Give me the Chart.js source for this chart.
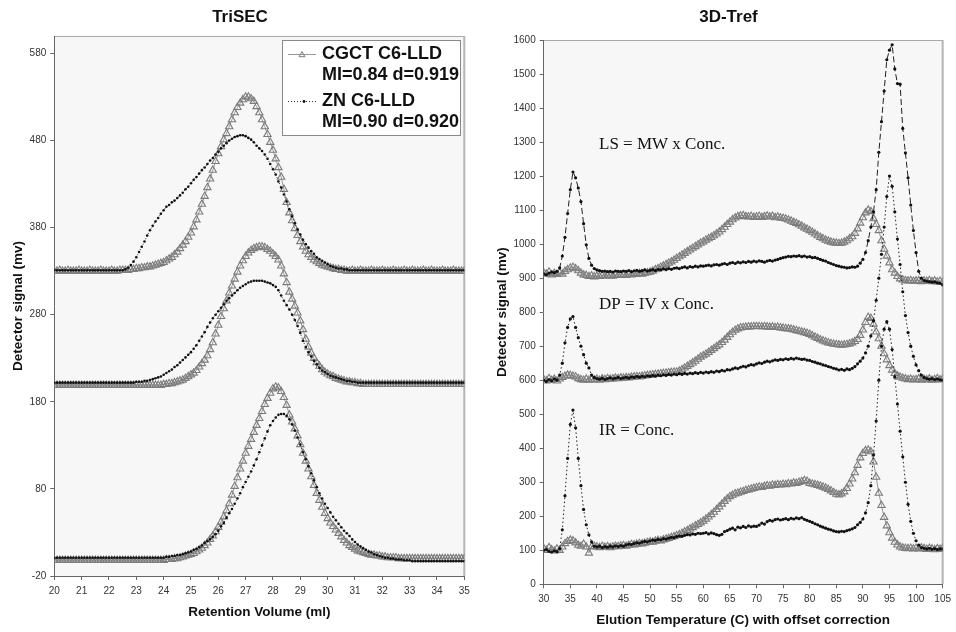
<!DOCTYPE html>
<html><head><meta charset="utf-8">
<script src="https://cdn.jsdelivr.net/npm/chart.js@4.4.1/dist/chart.umd.min.js"></script>
<style>
html,body{margin:0;padding:0;background:#fff;}
#wrap{position:relative;width:956px;height:632px;overflow:hidden;background:#fff;}
canvas{position:absolute;top:0;}
#c1{left:0;} #c2{left:478px;}
</style></head><body>
<div id="wrap"><canvas id="c1" width="478" height="632"></canvas><canvas id="c2" width="478" height="632"></canvas></div>
<script>
// ---------- LEFT PANEL DATA (TriSEC) ----------
const retention = [
20,20.1,20.2,20.3,20.4,20.5,20.6,20.7,20.8,20.9,
21,21.1,21.2,21.3,21.4,21.5,21.6,21.7,21.8,21.9,
22,22.1,22.2,22.3,22.4,22.5,22.6,22.7,22.8,22.9,
23,23.1,23.2,23.3,23.4,23.5,23.6,23.7,23.8,23.9,
24,24.1,24.2,24.3,24.4,24.5,24.6,24.7,24.8,24.9,
25,25.1,25.2,25.3,25.4,25.5,25.6,25.7,25.8,25.9,
26,26.1,26.2,26.3,26.4,26.5,26.6,26.7,26.8,26.9,
27,27.1,27.2,27.3,27.4,27.5,27.6,27.7,27.8,27.9,
28,28.1,28.2,28.3,28.4,28.5,28.6,28.7,28.8,28.9,
29,29.1,29.2,29.3,29.4,29.5,29.6,29.7,29.8,29.9,
30,30.1,30.2,30.3,30.4,30.5,30.6,30.7,30.8,30.9,
31,31.1,31.2,31.3,31.4,31.5,31.6,31.7,31.8,31.9,
32,32.1,32.2,32.3,32.4,32.5,32.6,32.7,32.8,32.9,
33,33.1,33.2,33.3,33.4,33.5,33.6,33.7,33.8,33.9,
34,34.1,34.2,34.3,34.4,34.5,34.6,34.7,34.8,34.9,
35];
const topCgct = [
330,330,331,330,330,331,330,330,330,331,
330,330,330,331,330,330,330,331,330,330,
330,331,330,330,331,331,331,331,332,332,
333,333,334,334,335,335,336,337,338,339,
340,342,344,346,349,352,356,360,364,369,
374,381,389,398,407,416,426,436,446,456,
465,473,481,488,496,504,512,518,523,527,
530,530,528,525,519,512,504,496,487,478,
469,459,449,438,424,409,397,388,379,371,
364,358,353,349,346,343,341,339,337,336,
335,334,333,332,332,331,331,330,330,331,
330,330,331,330,330,330,331,330,330,330,
331,330,330,330,331,330,330,330,331,330,
330,331,330,330,330,331,330,330,331,330,
330,330,331,330,330,330,331,330,330,330,
330];
const topZn = [
331,331,331,331,331,331,331,331,331,331,
331,331,331,331,331,331,331,331,331,331,
331,331,331,331,331,331,332,334,337,341,
346,352,358,364,371,377,382,387,391,396,
400,404,406,409,411,414,417,420,424,427,
431,435,438,442,446,449,453,457,460,464,
467,471,474,477,480,482,484,485,486,486,
485,483,481,478,474,471,468,464,459,453,
447,441,433,426,418,410,401,393,385,378,
372,366,361,357,353,350,346,344,342,340,
338,336,335,334,333,333,332,332,331,331,
331,331,331,331,331,331,331,331,331,331,
331,331,331,331,331,331,331,331,331,331,
331,331,331,331,331,331,331,331,331,331,
331,331,331,331,331,331,331,331,331,331,
331];
const midCgct = [
199,199,199,199,199,199,199,199,199,199,
199,199,199,199,199,199,199,199,199,199,
199,199,199,199,199,199,199,199,199,199,
199,199,199,199,199,199,199,199,199,199,
200,200,201,201,202,203,204,205,207,209,
211,213,216,220,224,228,233,240,248,258,
268,278,287,296,305,313,321,329,336,342,
347,351,354,356,357,358,358,357,355,353,
350,347,343,336,327,317,306,298,290,282,
273,263,252,243,236,230,225,221,217,214,
212,210,209,207,206,205,204,203,203,202,
202,201,201,200,200,200,200,200,200,200,
200,200,200,200,200,200,200,200,200,200,
200,200,200,200,200,200,200,200,200,200,
200,200,200,200,200,200,200,200,200,200,
200];
const midZn = [
202,202,202,202,202,202,202,202,202,202,
202,202,202,202,202,202,202,202,202,202,
202,202,202,202,202,202,202,202,202,202,
203,203,203,204,204,205,206,207,208,209,
211,213,215,217,220,222,225,228,231,234,
237,241,245,250,255,260,266,271,276,280,
284,288,292,296,299,302,305,308,311,313,
315,317,318,319,319,319,319,318,317,316,
314,312,308,302,296,291,286,280,274,267,
259,250,243,237,232,227,223,219,216,214,
212,210,209,208,207,206,205,204,204,203,
203,202,202,202,202,202,202,202,202,202,
202,202,202,202,202,202,202,202,202,202,
202,202,202,202,202,202,202,202,202,202,
202,202,202,202,202,202,202,202,202,202,
202];
const botCgct = [
-2,-2,-2,-2,-2,-2,-2,-2,-2,-2,
-2,-2,-2,-2,-2,-2,-2,-2,-2,-2,
-2,-2,-2,-2,-2,-2,-2,-2,-2,-2,
-2,-2,-2,-2,-2,-2,-2,-2,-2,-2,
-2,-1,-1,-1,0,0,1,2,3,4,
5,6,8,10,12,15,18,22,26,31,
36,42,48,55,63,73,83,93,103,112,
121,129,137,145,153,161,169,177,184,190,
195,197,196,192,185,176,165,157,149,141,
131,121,112,103,94,84,75,67,59,52,
46,41,37,33,29,25,21,18,15,13,
11,9,8,7,6,5,4,4,3,3,
2,2,1,1,1,1,0,0,0,0,
0,0,0,0,0,0,0,0,0,0,
0,0,0,0,0,0,0,0,0,0,
0];
const botZn = [
1,1,1,1,1,1,1,1,1,1,
1,1,1,1,1,1,1,1,1,1,
1,1,1,1,1,1,1,1,1,1,
1,1,1,1,1,1,1,1,1,1,
1,2,2,3,3,4,4,5,6,7,
8,10,11,13,15,18,20,22,25,28,
32,37,41,47,52,57,63,69,75,82,
88,94,100,107,114,122,130,138,146,153,
158,162,165,166,166,164,160,154,147,139,
131,122,114,106,98,90,82,75,69,63,
58,53,48,44,40,36,32,29,26,22,
19,16,14,12,10,8,7,5,4,3,
2,1,1,0,0,-1,-1,-1,-2,-2,
-2,-3,-3,-3,-3,-3,-3,-3,-3,-3,
-3,-3,-3,-3,-3,-3,-3,-3,-3,-3,
-3];
const leftXTicks = [20,21,22,23,24,25,26,27,28,29,30,31,32,33,34,35];
const leftYTicks = [-20,80,180,280,380,480,580];

// ---------- RIGHT PANEL DATA (3D-Tref) ----------
const temperature = [
30,30.5,31,31.5,32,32.5,33,33.5,34,34.5,
35,35.5,36,36.5,37,37.5,38,38.5,39,39.5,
40,40.5,41,41.5,42,42.5,43,43.5,44,44.5,
45,45.5,46,46.5,47,47.5,48,48.5,49,49.5,
50,50.5,51,51.5,52,52.5,53,53.5,54,54.5,
55,55.5,56,56.5,57,57.5,58,58.5,59,59.5,
60,60.5,61,61.5,62,62.5,63,63.5,64,64.5,
65,65.5,66,66.5,67,67.5,68,68.5,69,69.5,
70,70.5,71,71.5,72,72.5,73,73.5,74,74.5,
75,75.5,76,76.5,77,77.5,78,78.5,79,79.5,
80,80.5,81,81.5,82,82.5,83,83.5,84,84.5,
85,85.5,86,86.5,87,87.5,88,88.5,89,89.5,
90,90.5,91,91.5,92,92.5,93,93.5,94,94.5,
95,95.5,96,96.5,97,97.5,98,98.5,99,99.5,
100,100.5,101,101.5,102,102.5,103,103.5,104,104.5,
105];
const lsCgct = [
915,912,918,910,914,911,916,912,920,925,
930,932,928,922,915,910,908,905,907,904,
906,905,908,906,909,907,906,910,908,909,
910,908,912,910,913,911,914,912,915,916,
918,921,925,928,932,936,940,944,948,953,
958,963,968,973,978,983,988,993,998,1003,
1007,1012,1016,1020,1025,1030,1036,1043,1050,1058,
1065,1072,1077,1081,1083,1084,1081,1080,1082,1079,
1080,1082,1079,1081,1083,1080,1082,1078,1080,1077,
1076,1074,1071,1068,1064,1061,1057,1053,1048,1044,
1040,1035,1030,1025,1020,1016,1012,1009,1006,1004,
1003,1002,1003,1006,1010,1016,1022,1032,1045,1062,
1078,1092,1100,1096,1075,1058,1040,1010,985,965,
945,925,915,905,898,895,893,892,893,891,
892,893,890,892,891,893,890,892,889,891,
888];
const lsZn = [
912,910,915,918,916,920,930,965,1020,1090,
1160,1212,1195,1165,1125,1060,998,958,938,928,
924,922,920,921,919,920,918,921,920,919,
921,920,922,919,921,923,920,922,924,921,
923,925,922,926,924,927,925,928,926,929,
930,928,931,933,930,934,932,935,933,936,
935,937,938,936,939,940,938,941,943,940,
944,946,943,947,945,948,946,949,947,950,
948,951,949,947,950,952,950,953,955,958,
960,962,964,963,965,964,966,963,965,962,
963,960,961,958,955,952,950,946,943,940,
937,935,933,932,930,931,933,932,935,944,
955,975,1010,1050,1095,1160,1270,1360,1450,1542,
1570,1586,1515,1472,1470,1340,1268,1195,1115,1040,
975,920,900,893,891,890,888,889,886,885,
880];
const dpCgct = [
602,598,605,600,603,598,604,608,612,615,
614,612,610,605,602,600,603,600,602,601,
603,600,604,602,605,603,604,606,605,607,
606,608,607,609,610,611,610,612,613,614,
615,616,617,618,619,620,621,622,623,624,
624,627,631,636,641,646,651,656,662,668,
672,677,682,688,693,699,704,711,718,726,
734,741,747,751,754,755,756,757,757,758,
758,758,757,758,757,756,757,755,756,754,
753,752,751,750,748,746,744,742,740,738,
735,731,727,723,719,716,713,710,708,706,
705,704,703,704,705,707,710,714,720,732,
748,770,785,782,765,742,722,700,678,660,
643,630,620,613,609,606,604,602,603,601,
602,604,600,603,601,604,600,602,605,601,
603];
const dpZn = [
600,596,602,598,604,600,615,650,710,755,
780,787,755,725,700,675,650,636,615,608,
605,603,606,602,605,607,604,606,608,605,
607,609,606,610,608,611,609,612,610,613,
611,614,612,615,613,616,614,617,615,618,
616,619,617,620,618,621,619,622,620,623,
621,624,622,625,623,627,625,629,627,631,
630,633,636,634,638,641,639,643,646,644,
648,651,649,653,656,654,657,660,658,661,
660,663,661,664,662,665,663,661,662,659,
658,655,653,650,648,645,643,640,638,635,
633,630,632,629,633,631,635,640,648,656,
665,680,700,730,775,835,900,970,1050,1140,
1200,1170,1095,1015,940,860,790,740,700,670,
645,628,615,608,605,603,605,602,604,601,
600];
const irCgct = [
105,100,108,102,98,104,100,110,120,126,
130,128,122,115,112,118,110,92,110,112,
110,108,112,109,111,108,110,112,111,113,
114,112,115,117,116,118,120,119,121,123,
125,124,127,129,128,131,133,135,138,140,
143,146,150,154,158,163,167,172,176,181,
186,192,198,205,212,220,228,236,244,251,
258,262,266,268,271,273,276,278,280,282,
284,286,285,288,290,289,292,291,293,292,
294,293,296,295,298,297,300,302,305,303,
297,295,293,291,289,286,283,279,275,270,
265,263,266,272,282,295,310,328,350,372,
385,393,395,390,360,315,268,232,197,172,
152,136,124,116,110,107,106,105,106,104,
106,104,107,105,103,106,104,102,105,103,
106];
const irZn = [
100,102,97,95,98,96,105,160,260,370,
470,512,460,370,290,220,175,145,125,112,
110,112,108,111,109,112,110,113,111,114,
112,116,118,117,120,122,121,124,126,125,
128,130,129,132,131,134,133,136,138,137,
140,142,141,144,146,145,148,147,150,149,
150,152,148,151,149,146,144,147,155,158,
162,165,160,168,166,170,167,172,169,171,
170,174,180,177,184,188,186,190,192,189,
191,193,190,194,192,195,193,196,191,188,
185,182,178,175,171,168,165,162,160,157,
155,154,156,155,158,160,163,167,175,182,
192,210,240,290,380,480,600,700,750,772,
750,690,610,530,450,375,300,235,185,150,
128,115,108,106,104,106,103,105,102,104,
104];
const rightXTicks = [30,35,40,45,50,55,60,65,70,75,80,85,90,95,100,105];
const rightYTicks = [0,100,200,300,400,500,600,700,800,900,1000,1100,1200,1300,1400,1500,1600];

// ---------- helpers ----------
const SANS = '"Liberation Sans", Arial, Helvetica, sans-serif';
const SERIF = '"Liberation Serif", "Times New Roman", serif';
Chart.defaults.font.family = SANS;
const pts = (xs, ys) => xs.map((x, i) => ({x: x, y: ys[i]}));

function triDS(label, xs, ys) {
  return {label, data: pts(xs, ys), borderColor: '#9a9a9a', borderWidth: 1,
    pointStyle: 'triangle', pointRadius: 4.2, pointBorderColor: '#7c7c7c',
    pointBackgroundColor: 'rgba(255,255,255,0)', pointBorderWidth: 1.1, fill: false, tension: 0};
}
function dotDS(label, xs, ys, dash, r) {
  return {label, data: pts(xs, ys), borderColor: '#222', borderWidth: 1, borderDash: dash,
    pointStyle: 'circle', pointRadius: r, pointBackgroundColor: '#111', pointBorderWidth: 0,
    fill: false, tension: 0};
}
function drawTri(ctx, x, y, r) {
  const w = r * 1.732;
  ctx.beginPath();
  ctx.moveTo(x, y - r);
  ctx.lineTo(x + w / 2, y + r / 2);
  ctx.lineTo(x - w / 2, y + r / 2);
  ctx.closePath();
  ctx.stroke();
}
function framePlugin() {
  return {
    id: 'frame',
    beforeDraw(chart) {
      const {ctx, chartArea: a} = chart;
      ctx.save();
      ctx.fillStyle = '#ffffff';
      ctx.fillRect(0, 0, chart.width, chart.height);
      ctx.fillStyle = '#f7f7f7';
      ctx.fillRect(a.left, a.top, a.right - a.left, a.bottom - a.top);
      ctx.strokeStyle = '#a8a8a8';
      ctx.lineWidth = 1;
      ctx.beginPath();
      ctx.moveTo(a.left, a.top + 0.5); ctx.lineTo(a.right, a.top + 0.5);
      ctx.stroke();
      ctx.lineWidth = 2;
      ctx.strokeStyle = '#b4b4b4';
      ctx.beginPath();
      ctx.moveTo(a.right, a.top); ctx.lineTo(a.right, a.bottom);
      ctx.stroke();
      ctx.restore();
    }
  };
}
function titlePlugin(text, x, y) {
  return {
    id: 'ttl',
    afterDraw(chart) {
      const ctx = chart.ctx;
      ctx.save();
      ctx.font = 'bold 17px ' + SANS;
      ctx.fillStyle = '#111';
      ctx.textAlign = 'center';
      ctx.textBaseline = 'middle';
      ctx.fillText(text, x, y);
      ctx.restore();
    }
  };
}
function axisTitle(text, pad) {
  return {display: true, text, color: '#111', font: {family: SANS, size: 13.5, weight: 'bold'}, padding: pad};
}
function tickCfg() {
  return {color: '#333', font: {family: SANS, size: 10}, autoSkip: false, maxRotation: 0, padding: 4,
    callback: v => String(v)};
}
function gridCfg() {
  return {display: true, drawOnChartArea: false, drawTicks: true, tickLength: 4, color: '#666'};
}

// ---------- LEFT CHART ----------
const legendPlugin = {
  id: 'lgd',
  afterDraw(chart) {
    const ctx = chart.ctx;
    ctx.save();
    ctx.fillStyle = '#fff';
    ctx.fillRect(282, 40, 178, 95);
    ctx.strokeStyle = '#8a8a8a'; ctx.lineWidth = 1;
    ctx.strokeRect(282.5, 40.5, 178, 95);
    ctx.strokeStyle = '#9a9a9a';
    ctx.beginPath(); ctx.moveTo(288, 54.5); ctx.lineTo(316, 54.5); ctx.stroke();
    ctx.strokeStyle = '#7c7c7c';
    drawTri(ctx, 302, 55, 3.4);
    ctx.strokeStyle = '#333'; ctx.setLineDash([1, 2]);
    ctx.beginPath(); ctx.moveTo(288, 101.5); ctx.lineTo(316, 101.5); ctx.stroke();
    ctx.setLineDash([]);
    ctx.fillStyle = '#111';
    ctx.beginPath(); ctx.arc(304, 101.5, 1.4, 0, Math.PI * 2); ctx.fill();
    ctx.font = 'bold 18px ' + SANS;
    ctx.textBaseline = 'middle'; ctx.textAlign = 'left';
    ctx.fillText('CGCT C6-LLD', 322, 54.5);
    ctx.fillText('MI=0.84 d=0.919', 322, 75.5);
    ctx.fillText('ZN C6-LLD', 322, 101.5);
    ctx.fillText('MI=0.90 d=0.920', 322, 122.5);
    ctx.restore();
  }
};
new Chart(document.getElementById('c1'), {
  type: 'line',
  data: {datasets: [
    dotDS('ZN C6-LLD', retention, topZn, [1, 2], 1.3),
    dotDS('ZN C6-LLD', retention, midZn, [1, 2], 1.3),
    dotDS('ZN C6-LLD', retention, botZn, [1, 2], 1.3),
    triDS('CGCT C6-LLD', retention, topCgct),
    triDS('CGCT C6-LLD', retention, midCgct),
    triDS('CGCT C6-LLD', retention, botCgct)
  ]},
  options: {
    responsive: false, animation: false, devicePixelRatio: 1,
    layout: {padding: {top: 36, right: 13.7, bottom: 0, left: 0}},
    plugins: {legend: {display: false}, tooltip: {enabled: false}, title: {display: false}},
    scales: {
      x: {type: 'linear', min: 20, max: 35,
        afterBuildTicks: s => { s.ticks = leftXTicks.map(v => ({value: v})); },
        afterFit: s => { s.height = 56; },
        ticks: Object.assign(tickCfg(), {padding: 5}), grid: gridCfg(), border: {display: true, color: '#666', width: 1},
        title: axisTitle('Retention Volume (ml)', {top: 0, bottom: 12})},
      y: {type: 'linear', min: -20, max: 600,
        afterBuildTicks: s => { s.ticks = leftYTicks.map(v => ({value: v})); },
        afterFit: s => { s.width = 54.3; },
        ticks: tickCfg(), grid: gridCfg(), border: {display: true, color: '#666', width: 1},
        title: axisTitle('Detector signal (mv)', {top: 10, bottom: 0})}
    }
  },
  plugins: [framePlugin(), titlePlugin('TriSEC', 240, 17), legendPlugin]
});

// ---------- RIGHT CHART ----------
const notesPlugin = {
  id: 'notes',
  afterDraw(chart) {
    const ctx = chart.ctx;
    ctx.save();
    ctx.font = '17px ' + SERIF;
    ctx.fillStyle = '#111';
    ctx.textAlign = 'left'; ctx.textBaseline = 'middle';
    ctx.fillText('LS = MW x Conc.', 121, 145);
    ctx.fillText('DP = IV x Conc.', 121, 305);
    ctx.fillText('IR = Conc.', 121, 431);
    ctx.restore();
  }
};
new Chart(document.getElementById('c2'), {
  type: 'line',
  data: {datasets: [
    dotDS('LS ZN', temperature, lsZn, [6, 3], 1.6),
    dotDS('DP ZN', temperature, dpZn, [1.5, 2.5], 1.6),
    dotDS('IR ZN', temperature, irZn, [1.5, 2.5], 1.6),
    triDS('LS CGCT', temperature, lsCgct),
    triDS('DP CGCT', temperature, dpCgct),
    triDS('IR CGCT', temperature, irCgct)
  ]},
  options: {
    responsive: false, animation: false, devicePixelRatio: 1,
    layout: {padding: {top: 40, right: 10, bottom: 0, left: 0}},
    plugins: {legend: {display: false}, tooltip: {enabled: false}, title: {display: false}},
    scales: {
      x: {type: 'linear', min: 30, max: 105,
        afterBuildTicks: s => { s.ticks = rightXTicks.map(v => ({value: v})); },
        afterFit: s => { s.height = 47.7; },
        ticks: Object.assign(tickCfg(), {padding: 5}), grid: gridCfg(), border: {display: true, color: '#666', width: 1},
        title: axisTitle('Elution Temperature (C) with offset correction', {top: 0, bottom: 4})},
      y: {type: 'linear', min: 0, max: 1600,
        afterBuildTicks: s => { s.ticks = rightYTicks.map(v => ({value: v})); },
        afterFit: s => { s.width = 65.7; },
        ticks: tickCfg(), grid: gridCfg(), border: {display: true, color: '#666', width: 1},
        title: axisTitle('Detector signal (mv)', {top: 16, bottom: 0})}
    }
  },
  plugins: [framePlugin(), titlePlugin('3D-Tref', 250.5, 17), notesPlugin]
});
</script></body></html>
